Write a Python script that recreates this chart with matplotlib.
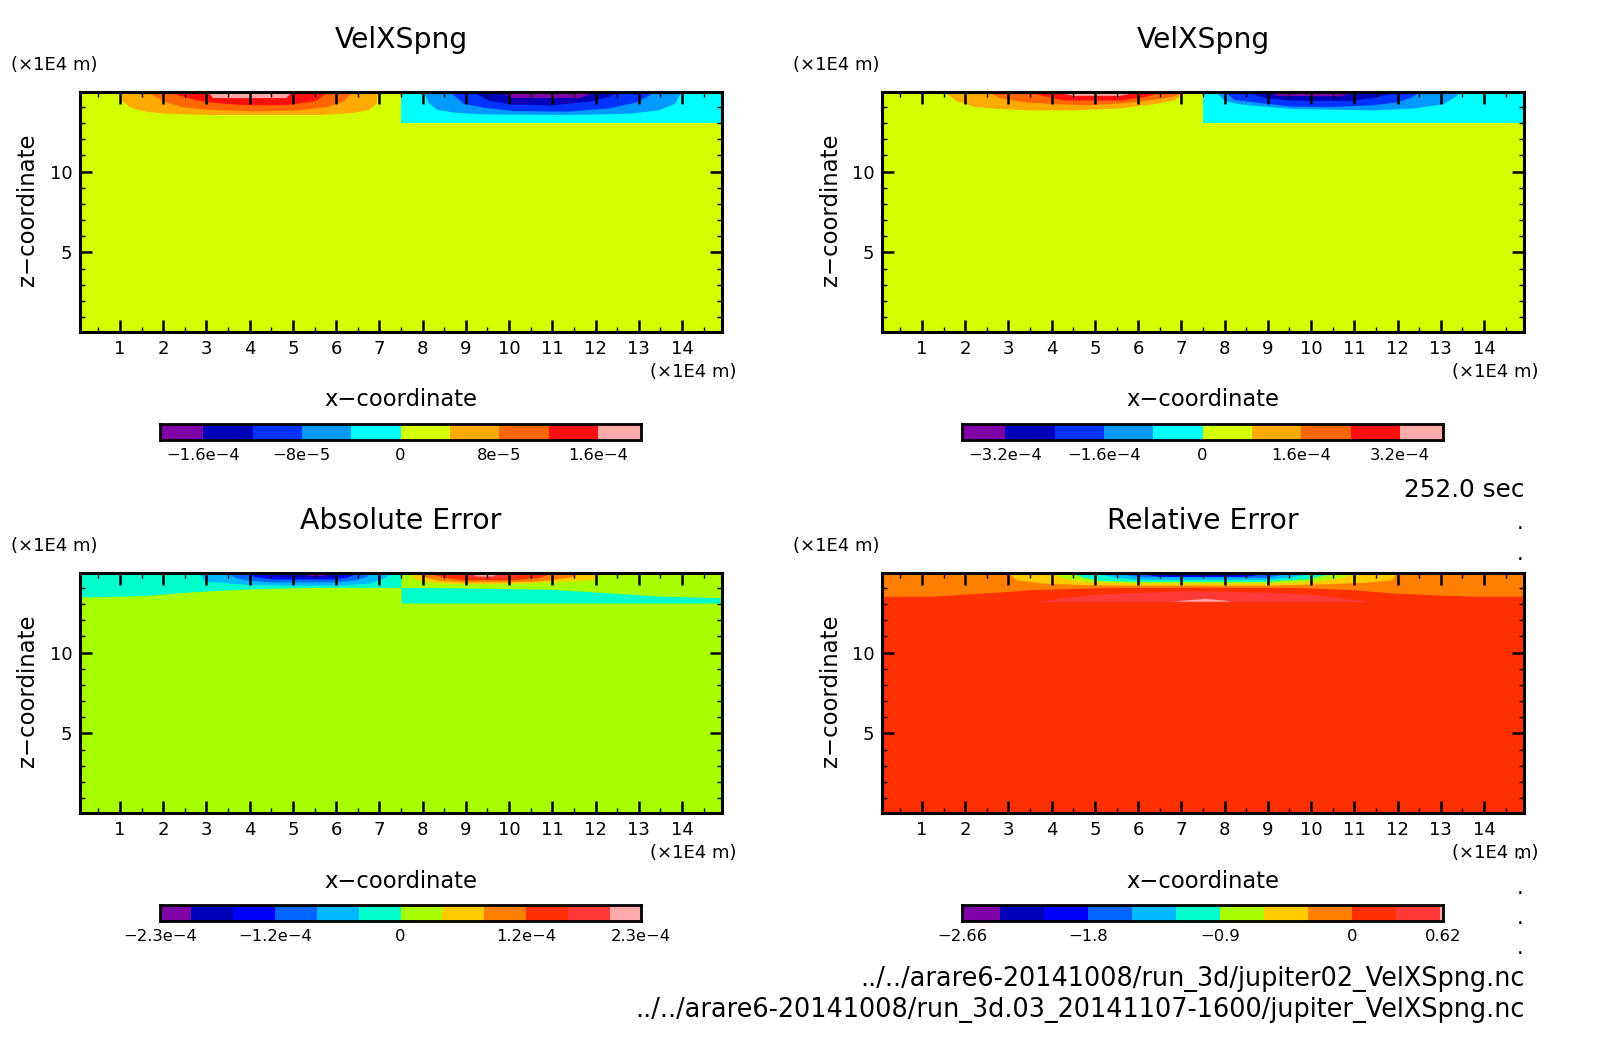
"""
plot.py

Four VelXSpng cross sections (two models, absolute and relative error).
"""

import matplotlib
matplotlib.use("Agg")
import matplotlib.pyplot as plt
from matplotlib.colors import BoundaryNorm, ListedColormap

WIDTH = 1604
HEIGHT = 1054
TOP = 14.925

# shared palette of the shaded levels
PURPLE = "#8000a8"
NAVY = "#0000b8"
BLUE = "#0033ff"
AZURE = "#0099ff"
CYAN = "#00ffff"
LIME = "#d4ff00"
ORANGE = "#ffaa00"
DARKORANGE = "#ff6600"
RED = "#ff1010"
PINK = "#ffaaaa"
BLUE2 = "#0000ff"
MIDBLUE = "#0066ff"
SKY = "#00b8ff"
TEAL = "#00ffcc"
GREEN = "#a8ff00"
AMBER = "#ffcc00"
ORANGE2 = "#ff8000"
SCARLET = "#ff3000"
ROSE = "#ff3838"

# colour bars
bar_a_levels = [-1.95e-4, -1.6e-4, -1.2e-4, -8e-5, -4e-5, 0, 4e-5, 8e-5, 1.2e-4, 1.6e-4, 1.95e-4]
bar_a_ticks = [-1.6e-4, -8e-5, 0, 8e-5, 1.6e-4]
bar_a_labels = ["\u22121.6e\u22124", "\u22128e\u22125", "0", "8e\u22125", "1.6e\u22124"]
bar_b_levels = [-3.9e-4, -3.2e-4, -2.4e-4, -1.6e-4, -8e-5, 0, 8e-5, 1.6e-4, 2.4e-4, 3.2e-4, 3.9e-4]
bar_b_ticks = [-3.2e-4, -1.6e-4, 0, 1.6e-4, 3.2e-4]
bar_b_labels = ["\u22123.2e\u22124", "\u22121.6e\u22124", "0", "1.6e\u22124", "3.2e\u22124"]
bar_ab_colors = [PURPLE, NAVY, BLUE, AZURE, CYAN, LIME, ORANGE, DARKORANGE, RED, PINK]
bar_c_levels = [-2.3e-4, -2e-4, -1.6e-4, -1.2e-4, -8e-5, -4e-5, 0, 4e-5, 8e-5, 1.2e-4, 1.6e-4, 2e-4, 2.3e-4]
bar_c_ticks = [-2.3e-4, -1.2e-4, 0, 1.2e-4, 2.3e-4]
bar_c_labels = ["\u22122.3e\u22124", "\u22121.2e\u22124", "0", "1.2e\u22124", "2.3e\u22124"]
bar_d_levels = [-2.66, -2.4, -2.1, -1.8, -1.5, -1.2, -0.9, -0.6, -0.3, 0, 0.3, 0.6, 0.62]
bar_d_ticks = [-2.66, -1.8, -0.9, 0, 0.62]
bar_d_labels = ["\u22122.66", "\u22121.8", "\u22120.9", "0", "0.62"]
bar_cd_colors = [PURPLE, NAVY, BLUE2, MIDBLUE, SKY, TEAL, GREEN, AMBER, ORANGE2, SCARLET, ROSE, PINK]

# panel A, lower edges of each level (x and z in 1E4 m)
a_cyan_x = [7.5, 14.925]
a_cyan_z = [13.03, 13.03]
a_orange_x = [1.02, 1.03, 1.19, 1.38, 1.67, 2.05, 3.10, 5.59, 6.36, 6.74, 6.93, 6.95]
a_orange_z = [14.925, 14.43, 14.06, 13.86, 13.71, 13.61, 13.53, 13.53, 13.65, 13.82, 14.23, 14.925]
a_dark_x = [1.71, 1.76, 2.05, 2.43, 3.01, 4.16, 5.11, 5.78, 6.17, 6.36]
a_dark_z = [14.925, 14.74, 14.33, 14.02, 13.86, 13.76, 13.82, 14.02, 14.39, 14.925]
a_red_x = [2.29, 2.35, 2.72, 3.05, 3.87, 4.83, 5.50, 5.80]
a_red_z = [14.925, 14.74, 14.47, 14.31, 14.14, 14.14, 14.39, 14.925]
a_pink_x = [3.03, 3.15, 4.83, 4.97]
a_pink_z = [14.925, 14.58, 14.58, 14.925]
a_azure_x = [8.03, 8.13, 8.32, 8.75, 9.42, 11.34, 12.78, 13.45, 13.83, 13.97]
a_azure_z = [14.925, 14.27, 13.86, 13.67, 13.57, 13.53, 13.61, 13.82, 14.23, 14.925]
a_blue_x = [8.63, 8.94, 9.42, 10.09, 11.34, 12.30, 12.97, 13.35]
a_blue_z = [14.925, 14.23, 13.98, 13.78, 13.74, 13.94, 14.33, 14.925]
a_navy_x = [9.18, 9.52, 10.0, 10.96, 11.91, 12.3, 12.49]
a_navy_z = [14.925, 14.43, 14.19, 14.12, 14.39, 14.64, 14.925]
a_purple_x = [9.81, 10.05, 11.63, 11.96]
a_purple_z = [14.925, 14.58, 14.58, 14.925]

# panel B
b_orange_x = [1.53, 1.79, 2.22, 2.80, 3.47, 4.52, 5.57, 6.34, 6.82, 7.11]
b_orange_z = [14.925, 14.39, 14.02, 13.90, 13.82, 13.82, 13.94, 14.19, 14.43, 14.925]
b_dark_x = [2.51, 2.80, 3.37, 4.23, 4.81, 5.67, 6.34, 6.82, 6.99]
b_dark_z = [14.925, 14.58, 14.31, 14.19, 14.14, 14.27, 14.47, 14.68, 14.925]
b_red_x = [3.47, 3.85, 4.28, 5.57, 6.15, 6.51]
b_red_z = [14.925, 14.68, 14.43, 14.43, 14.64, 14.925]
b_pink_x = [4.14, 4.47, 5.57, 5.96]
b_pink_z = [14.925, 14.72, 14.72, 14.925]
b_azure_x = [7.80, 7.99, 8.35, 9.02, 9.60, 11.42, 12.37, 13.04, 13.33, 13.45]
b_azure_z = [14.925, 14.39, 14.19, 14.02, 13.90, 13.82, 13.94, 14.19, 14.64, 14.925]
b_blue_x = [8.02, 8.21, 8.64, 9.50, 10.41, 11.42, 11.99, 12.33, 12.49]
b_blue_z = [14.925, 14.47, 14.33, 14.06, 14.02, 14.14, 14.31, 14.64, 14.925]
b_navy_x = [8.52, 8.93, 9.50, 10.94, 11.51, 11.99]
b_navy_z = [14.925, 14.58, 14.43, 14.39, 14.64, 14.925]
b_purple_x = [9.02, 9.21, 10.65, 10.99]
b_purple_z = [14.925, 14.72, 14.68, 14.925]

# panel C
c_teal_left_x = [0.075, 0.37, 1.57, 2.72, 3.96, 5.5, 7.5]
c_teal_left_z = [13.45, 13.45, 13.53, 13.77, 13.94, 14.04, 14.04]
c_teal_right_x = [7.5, 9.42, 10.96, 12.11, 13.54, 14.865, 14.925]
c_teal_right_high = [14.04, 13.98, 13.92, 13.73, 13.49, 13.40, 13.40]
c_teal_right_low = [13.07, 13.07, 13.07, 13.07, 13.07, 13.07, 13.07]
c_sky_x = [2.81, 2.95, 3.0, 3.5, 4.0, 5.0, 6.15, 6.77, 7.12, 7.27]
c_sky_z = [14.925, 14.47, 14.41, 14.31, 14.21, 14.17, 14.17, 14.31, 14.62, 14.925]
c_mid_x = [3.5, 3.69, 4.0, 4.54, 5.93, 6.46, 6.7, 6.73]
c_mid_z = [14.925, 14.62, 14.47, 14.37, 14.37, 14.51, 14.72, 14.925]
c_blue_x = [4.0, 4.08, 4.5, 5.93, 6.23, 6.5]
c_blue_z = [14.925, 14.72, 14.56, 14.56, 14.66, 14.925]
c_navy_x = [4.5, 4.62, 5.0, 5.93, 6.08]
c_navy_z = [14.925, 14.70, 14.66, 14.66, 14.925]
c_purple_x = [5.31, 5.35, 5.72, 5.77]
c_purple_z = [14.925, 14.76, 14.76, 14.925]
c_amber_x = [7.71, 7.77, 8.0, 8.54, 9.77, 10.93, 11.93, 12.16]
c_amber_z = [14.925, 14.62, 14.41, 14.29, 14.25, 14.37, 14.51, 14.925]
c_orange_x = [7.93, 8.0, 8.39, 9.0, 10.54, 11.0, 11.47, 11.51]
c_orange_z = [14.925, 14.70, 14.47, 14.37, 14.41, 14.53, 14.70, 14.925]
c_scarlet_x = [8.16, 8.47, 8.93, 10.16, 10.7, 10.97]
c_scarlet_z = [14.925, 14.66, 14.51, 14.51, 14.66, 14.925]
c_rose_x = [8.77, 9.0, 10.08, 10.47]
c_rose_z = [14.925, 14.66, 14.66, 14.925]
c_pink_x = [9.12, 9.24, 9.62, 9.7]
c_pink_z = [14.925, 14.74, 14.74, 14.925]

# panel D
d_orange_x = [0.075, 1.26, 2.17, 2.8, 3.56, 5.19, 7.49, 9.79, 10.94, 11.89, 12.85, 13.81, 14.46, 14.925]
d_orange_z = [13.49, 13.49, 13.65, 13.75, 13.90, 14.02, 14.04, 14.02, 13.90, 13.69, 13.57, 13.49, 13.49, 13.49]
d_amber_x = [3.0, 3.18, 3.79, 4.72, 5.87, 8.95, 10.49, 11.26, 11.87, 11.97]
d_amber_z = [14.925, 14.51, 14.31, 14.21, 14.17, 14.17, 14.27, 14.35, 14.51, 14.925]
d_green_x = [3.98, 4.25, 4.79, 5.87, 8.95, 10.1, 10.72, 10.95]
d_green_z = [14.925, 14.62, 14.41, 14.31, 14.31, 14.41, 14.66, 14.925]
d_teal_x = [4.48, 4.72, 5.1, 6.03, 8.95, 9.95, 10.49]
d_teal_z = [14.925, 14.66, 14.47, 14.41, 14.41, 14.58, 14.925]
d_sky_x = [5.02, 5.41, 5.95, 8.95, 9.57, 10.03]
d_sky_z = [14.925, 14.70, 14.53, 14.53, 14.70, 14.925]
d_mid_x = [5.49, 6.03, 8.95, 9.49]
d_mid_z = [14.925, 14.70, 14.66, 14.925]
d_blue_x = [5.95, 6.49, 8.49, 9.03]
d_blue_z = [14.925, 14.72, 14.72, 14.925]
d_navy_x = [6.49, 6.72, 8.18, 8.53]
d_navy_z = [14.925, 14.76, 14.76, 14.925]
d_purple_x = [6.99, 7.05, 7.9, 7.95]
d_purple_z = [14.925, 14.86, 14.86, 14.925]
d_rose_x = [3.71, 4.33, 5.1, 6.25, 7.26, 7.8, 8.95, 10.1, 11.22]
d_rose_high = [13.18, 13.43, 13.63, 13.75, 13.84, 13.80, 13.75, 13.59, 13.22]
d_rose_low = [13.14, 13.14, 13.14, 13.14, 13.14, 13.14, 13.14, 13.14, 13.14]
d_pink_x = [6.79, 6.99, 7.41, 7.53, 8.03, 8.14]
d_pink_high = [13.18, 13.24, 13.32, 13.36, 13.24, 13.18]
d_pink_low = [13.18, 13.18, 13.18, 13.18, 13.18, 13.18]

x_ticks = list(range(1, 15))
x_minor = [0.5 + i for i in range(15)]
z_ticks = [5, 10]
z_minor = [1, 2, 3, 4, 6, 7, 8, 9, 11, 12, 13, 14]

FOOTER_TOP = "../../arare6-20141008/run_3d/jupiter02_VelXSpng.nc"
FOOTER_BOTTOM = "../../arare6-20141008/run_3d.03_20141107-1600/jupiter_VelXSpng.nc"
UNIT = "(\u00d71E4 m)"


def place_axes(fig, left, top, right, bottom):
    """Add axes from pixel edges measured from the top left corner."""
    return fig.add_axes([left / WIDTH, 1 - bottom / HEIGHT,
                         (right - left) / WIDTH, (bottom - top) / HEIGHT])


def put_text(fig, x, y, text, size, ha="center", rotation=0):
    fig.text(x / WIDTH, 1 - y / HEIGHT, text, fontsize=size, ha=ha, va="center", rotation=rotation)


def shade(ax, x, low, color, high=None):
    if high is None:
        high = [TOP] * len(x)
    ax.fill_between(x, low, high, color=color, linewidth=0, antialiased=False)


def draw_section(fig, left, top, title, background, layers, unit_x):
    right = left + 642
    bottom = top + 240
    ax = place_axes(fig, left, top, right, bottom)
    ax.set_facecolor(background)
    for layer in layers:
        shade(ax, *layer)
    ax.set_xlim(0.075, 14.925)
    ax.set_ylim(0.075, 14.925)
    ax.set_xticks(x_ticks)
    ax.set_xticks(x_minor, minor=True)
    ax.set_yticks(z_ticks)
    ax.set_yticks(z_minor, minor=True)
    ax.tick_params(which="major", direction="in", length=8.5, width=1.8,
                   top=True, right=True, labelsize=13, pad=5.5)
    ax.tick_params(which="minor", direction="in", length=3.6, width=1.0, top=True, right=True)
    for spine in ax.spines.values():
        spine.set_linewidth(2.2)
    middle = (left + right) / 2
    put_text(fig, middle, top - 52, title, 20.3)
    put_text(fig, unit_x, top - 27, UNIT, 13)
    put_text(fig, right + 14, top + 280, UNIT, 13, ha="right")
    put_text(fig, middle, top + 308, "x\u2212coordinate", 16.3)
    put_text(fig, left - 52, (top + bottom) / 2 - 2, "z\u2212coordinate", 16.4, rotation=90)
    return ax


def draw_bar(fig, left, top, levels, colors, ticks, labels):
    ax = place_axes(fig, left, top, left + 481, top + 16)
    norm = BoundaryNorm(levels, len(colors))
    values = [[(levels[i] + levels[i + 1]) / 2 for i in range(len(colors))]]
    ax.pcolormesh(levels, [0, 1], values, cmap=ListedColormap(colors), norm=norm)
    ax.set_yticks([])
    ax.set_xticks(ticks)
    ax.set_xticklabels(labels)
    ax.tick_params(axis="x", length=0, labelsize=11.8, pad=6)
    for spine in ax.spines.values():
        spine.set_linewidth(2.0)


if __name__ == "__main__":
    plt.rcParams["font.family"] = ["DejaVu Sans"]
    fig = plt.figure(figsize=(WIDTH / 100, HEIGHT / 100), dpi=100)

    draw_section(fig, 80, 92, "VelXSpng", LIME, [
        (a_cyan_x, a_cyan_z, CYAN),
        (a_orange_x, a_orange_z, ORANGE), (a_dark_x, a_dark_z, DARKORANGE),
        (a_red_x, a_red_z, RED), (a_pink_x, a_pink_z, PINK),
        (a_azure_x, a_azure_z, AZURE), (a_blue_x, a_blue_z, BLUE),
        (a_navy_x, a_navy_z, NAVY), (a_purple_x, a_purple_z, PURPLE),
    ], 54)
    draw_section(fig, 882, 92, "VelXSpng", LIME, [
        (a_cyan_x, a_cyan_z, CYAN),
        (b_orange_x, b_orange_z, ORANGE), (b_dark_x, b_dark_z, DARKORANGE),
        (b_red_x, b_red_z, RED), (b_pink_x, b_pink_z, PINK),
        (b_azure_x, b_azure_z, AZURE), (b_blue_x, b_blue_z, BLUE),
        (b_navy_x, b_navy_z, NAVY), (b_purple_x, b_purple_z, PURPLE),
    ], 836)
    draw_section(fig, 80, 573, "Absolute Error", GREEN, [
        (c_teal_left_x, c_teal_left_z, TEAL),
        (c_teal_right_x, c_teal_right_low, TEAL, c_teal_right_high),
        (c_sky_x, c_sky_z, SKY), (c_mid_x, c_mid_z, MIDBLUE),
        (c_blue_x, c_blue_z, BLUE2), (c_navy_x, c_navy_z, NAVY),
        (c_purple_x, c_purple_z, PURPLE),
        (c_amber_x, c_amber_z, AMBER), (c_orange_x, c_orange_z, ORANGE2),
        (c_scarlet_x, c_scarlet_z, SCARLET), (c_rose_x, c_rose_z, ROSE),
        (c_pink_x, c_pink_z, PINK),
    ], 54)
    draw_section(fig, 882, 573, "Relative Error", SCARLET, [
        (d_orange_x, d_orange_z, ORANGE2), (d_amber_x, d_amber_z, AMBER),
        (d_green_x, d_green_z, GREEN), (d_teal_x, d_teal_z, TEAL),
        (d_sky_x, d_sky_z, SKY), (d_mid_x, d_mid_z, MIDBLUE),
        (d_blue_x, d_blue_z, BLUE2), (d_navy_x, d_navy_z, NAVY),
        (d_purple_x, d_purple_z, PURPLE),
        (d_rose_x, d_rose_low, ROSE, d_rose_high),
        (d_pink_x, d_pink_low, PINK, d_pink_high),
    ], 836)

    draw_bar(fig, 160, 424, bar_a_levels, bar_ab_colors, bar_a_ticks, bar_a_labels)
    draw_bar(fig, 962, 424, bar_b_levels, bar_ab_colors, bar_b_ticks, bar_b_labels)
    draw_bar(fig, 160, 905, bar_c_levels, bar_cd_colors, bar_c_ticks, bar_c_labels)
    draw_bar(fig, 962, 905, bar_d_levels, bar_cd_colors, bar_d_ticks, bar_d_labels)

    put_text(fig, 1525, 490, "252.0 sec", 17.8, ha="right")
    put_text(fig, 1525, 979, FOOTER_TOP, 18.4, ha="right")
    put_text(fig, 1525, 1010, FOOTER_BOTTOM, 18.4, ha="right")
    for dot_y in [523, 554, 853, 888, 918, 948]:
        put_text(fig, 1520, dot_y, ".", 15)

    fig.savefig("out.png", dpi=100)
